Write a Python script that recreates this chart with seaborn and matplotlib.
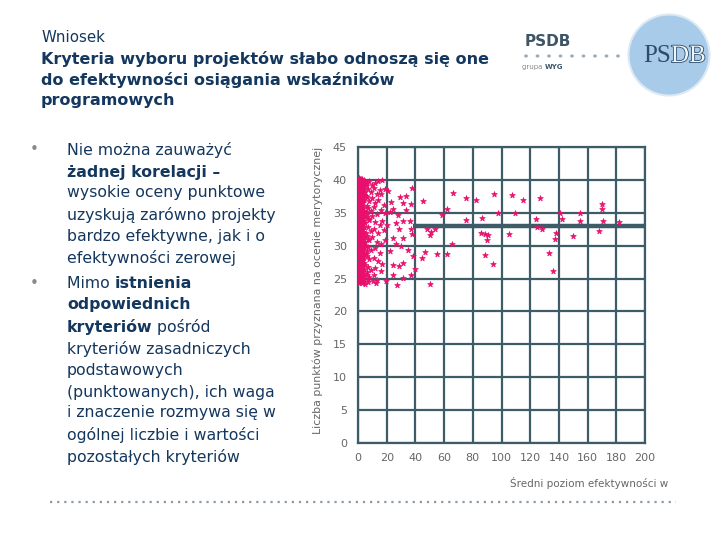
import matplotlib
matplotlib.use("Agg")
import matplotlib.pyplot as plt
import seaborn as sns
import pandas as pd
from matplotlib.patches import Circle
from matplotlib.lines import Line2D
import matplotlib.patheffects as pe

# ---------------- data ----------------
# dense block at very low efficiency (x ~ 0-4)
eff_dense = [0.4, 0.5, 0.3, 0.6, 0.4, 0.5, 0.3, 0.4, 0.6, 0.4, 0.5, 0.3, 0.4, 0.6, 0.5, 0.4, 0.3, 0.5, 0.4, 0.6, 0.4,
             1.6, 1.5, 1.7, 1.6, 1.4, 1.6, 1.7, 1.5, 1.6, 1.4, 1.6, 1.7, 1.5, 1.6, 1.4, 1.6, 1.5, 1.7, 1.6, 1.5, 1.6,
             2.8, 2.7, 2.9, 2.8, 2.6, 2.8, 2.9, 2.7, 2.8, 2.6, 2.8, 2.9, 2.7, 2.8, 2.6, 2.8, 2.7, 2.9, 2.8, 2.7, 2.8,
             4.0, 3.9, 4.1, 4.0, 3.8, 4.0, 4.1, 3.9, 4.0, 3.8, 4.0, 4.1, 3.9, 4.0, 3.8, 4.0, 3.9, 4.1, 4.0, 3.9,
             1.0, 1.1, 0.9, 1.0, 1.2, 1.0, 0.9, 1.1, 1.0, 1.2, 1.0, 0.9, 1.1, 1.0, 1.2, 1.0, 0.9, 1.1, 1.0, 1.0,
             2.2, 2.3, 2.1, 2.2, 2.4, 2.2, 2.1, 2.3, 2.2, 2.4, 2.2, 2.1, 2.3, 2.2, 2.4, 2.2, 2.1, 2.3, 2.2, 2.2,
             3.4, 3.5, 3.3, 3.4, 3.6, 3.4, 3.3, 3.5, 3.4, 3.6, 3.4, 3.3, 3.5, 3.4, 3.6, 3.4, 3.3, 3.5, 3.4, 3.4]
pts_dense = [24.3, 25.1, 25.9, 26.8, 27.5, 28.3, 29.1, 29.9, 30.7, 31.6, 32.3, 33.1, 33.9, 34.8, 35.5, 36.3, 37.1, 37.9, 38.8, 39.5, 40.3,
             24.6, 25.4, 26.2, 27.1, 27.9, 28.6, 29.5, 30.3, 31.0, 31.9, 32.7, 33.5, 34.3, 35.1, 35.9, 36.7, 37.5, 38.3, 39.1, 39.9, 40.1,
             24.4, 25.2, 26.0, 26.9, 27.7, 28.4, 29.3, 30.1, 30.8, 31.7, 32.5, 33.3, 34.1, 34.9, 35.7, 36.5, 37.3, 38.1, 38.9, 39.7, 40.2,
             24.8, 25.7, 26.5, 27.3, 28.1, 28.9, 29.7, 30.5, 31.3, 32.1, 32.9, 33.7, 34.5, 35.3, 36.1, 36.9, 37.7, 38.5, 39.3, 40.0,
             24.7, 25.5, 26.4, 27.2, 28.0, 28.8, 29.6, 30.4, 31.2, 32.0, 32.8, 33.6, 34.4, 35.2, 36.0, 36.8, 37.6, 38.4, 39.2, 40.0,
             24.9, 25.6, 26.3, 27.4, 28.2, 29.0, 29.8, 30.6, 31.4, 32.2, 33.0, 33.8, 34.6, 35.4, 36.2, 37.0, 37.8, 38.6, 39.4, 40.1,
             24.5, 25.3, 26.1, 27.0, 27.8, 28.5, 29.4, 30.2, 31.1, 31.8, 32.6, 33.4, 34.2, 35.0, 35.8, 36.6, 37.4, 38.2, 39.0, 39.8]

# medium density (x ~ 5-20)
eff_mid = [6, 8, 10, 12, 14, 17, 7, 9, 11, 13, 15, 6, 8, 10, 12, 14, 18, 7, 9, 11, 13, 16, 19, 6, 8, 10, 12, 15, 17, 20,
           7, 9, 11, 14, 18, 6, 8, 10, 13, 16, 19, 7, 9, 12, 15, 6, 8, 11, 14, 17, 7, 9, 12, 16, 6, 8, 11, 13, 7, 5,
           5.5, 6.5, 5.2, 6.8, 5.8, 6.2, 5.4, 7.5, 5.6, 6.9, 5.1, 5.3, 5.9, 6.1, 5.0, 5.7, 6.4, 5.2]
pts_mid = [39.5, 39.8, 39.2, 39.6, 39.9, 40.0, 38.6, 38.2, 38.8, 37.9, 38.4, 37.4, 36.8, 37.2, 36.5, 36.9, 36.2, 35.8, 35.3, 35.9,
           34.8, 35.4, 34.9, 34.3, 33.9, 34.5, 33.6, 33.2, 33.8, 33.1, 32.8, 32.2, 32.6, 31.9, 32.4, 31.4, 30.9, 31.3, 30.6, 30.2,
           30.8, 29.8, 29.3, 29.6, 28.9, 28.4, 27.9, 28.2, 27.6, 27.2, 26.8, 26.3, 26.6, 26.1, 25.6, 25.2, 25.5, 24.8, 24.5, 24.2,
           39.0, 36.0, 33.5, 31.0, 28.8, 26.0, 37.6, 34.0, 30.0, 25.0, 38.2, 35.1, 32.0, 29.2, 27.0, 39.6, 34.8, 30.6]

# sparse points (x ~ 20-45)
eff_low = [37.9, 33.7, 29.0, 31.4, 37.2, 23.3, 24.4, 33.7, 27.9, 31.4, 36.0, 26.3, 28.6, 37.2, 37.9, 31.4, 24.4, 26.7,
           29.8, 34.9, 38.4, 22.1, 31.4, 24.4, 28.4, 39.5, 37.2, 31.4, 24.4, 27.2, 19.8, 12.8, 10.5, 18.6, 20.9, 16.3, 22.1]
pts_low = [38.7, 37.5, 37.4, 36.5, 36.3, 36.7, 35.5, 35.4, 34.6, 33.7, 33.7, 33.5, 32.6, 32.6, 31.7, 31.2, 31.2, 30.2,
           29.9, 29.3, 28.4, 29.2, 27.4, 27.1, 26.9, 26.4, 25.6, 25.1, 25.6, 24.0, 24.6, 24.3, 24.6, 38.6, 38.3, 37.8, 35.1]

# high efficiency projects (x > 40)
eff_high = [66.3, 75.6, 81.9, 94.7, 107.0, 115.0, 126.7, 169.8, 169.8, 45.3, 62.0, 58.8, 75.6, 86.7, 97.7, 109.3, 124.0,
            140.7, 142.3, 155.0, 154.7, 171.0, 181.9, 125.0, 128.0, 137.9, 168.0, 150.0, 137.2, 105.1, 86.0, 88.4, 90.7,
            90.2, 65.8, 48.1, 51.2, 53.5, 50.0, 55.1, 62.1, 88.8, 94.2, 133.3, 136.0, 50.0, 47.0, 44.9]
pts_high = [38.0, 37.3, 36.9, 37.9, 37.7, 36.9, 37.3, 36.4, 35.5, 36.8, 35.6, 34.6, 33.9, 34.2, 35.0, 35.0, 34.1,
            35.0, 34.1, 35.0, 33.7, 33.7, 33.6, 32.8, 32.5, 32.0, 32.2, 31.4, 31.0, 31.8, 32.0, 31.8, 31.6,
            30.8, 30.3, 32.6, 32.1, 32.6, 31.6, 28.8, 28.8, 28.6, 27.2, 28.9, 26.2, 24.2, 29.0, 28.1]

mean_x = [38, 200]
mean_y = [33.0, 33.0]

x_ticks = [0, 20, 40, 60, 80, 100, 120, 140, 160, 180, 200]
y_ticks = [0, 5, 10, 15, 20, 25, 30, 35, 40, 45]

df = pd.DataFrame({
    "eff": eff_dense + eff_mid + eff_low + eff_high,
    "pts": pts_dense + pts_mid + pts_low + pts_high,
})

# ---------------- styling ----------------
sns.set_theme(style="white")
plt.rcParams["font.family"] = ["DejaVu Sans"]

W, H = 720, 540
fig = plt.figure(figsize=(7.2, 5.4), dpi=100)
fig.patch.set_facecolor("white")
renderer = fig.canvas.get_renderer()

def fx(px):
    return px / W

def fy(py):
    return 1 - py / H

NAVY = "#14375e"
GRID = "#3e5c68"
PINK = "#e8106c"

ax = fig.add_axes([fx(358), fy(443), (645 - 358) / W, (443 - 147) / H])
ax.plot(mean_x, mean_y, color=GRID, lw=3.2, zorder=2, solid_capstyle="butt")
sns.scatterplot(data=df, x="eff", y="pts", ax=ax, marker="*", s=18, color=PINK,
                edgecolor=PINK, linewidth=0.5, zorder=3, legend=False)
ax.set_xlim(0, 200)
ax.set_ylim(0, 45)
ax.set_xticks(x_ticks)
ax.set_yticks(y_ticks)
ax.grid(True, color=GRID, lw=1.6, zorder=0)
ax.set_axisbelow(True)
for sp in ax.spines.values():
    sp.set_color(GRID)
    sp.set_linewidth(1.6)
ax.tick_params(axis="both", colors=GRID, length=3, width=1.4, labelcolor="#666666", labelsize=8)
ax.tick_params(axis="x", pad=4)
ax.tick_params(axis="y", pad=5)
ax.set_xlabel("")
ax.set_ylabel("")

fig.text(fx(318), fy(290), "Liczba punktów przyznana na ocenie merytorycznej", rotation=90,
         ha="center", va="center", fontsize=7.9, color="#666666")
fig.text(fx(510), fy(483), "Średni poziom efektywności w", ha="left", va="center",
         fontsize=7.5, color="#666666")

# ---------------- title ----------------
fig.text(fx(41), fy(38), "Wniosek", ha="left", va="center", fontsize=10.8, color=NAVY)
title_lines = ["Kryteria wyboru projektów słabo odnoszą się one",
               "do efektywności osiągania wskaźników",
               "programowych"]
for i, t in enumerate(title_lines):
    fig.text(fx(41), fy(59 + 21 * i), t, ha="left", va="center", fontsize=11.5,
             color=NAVY, fontweight="bold")

# ---------------- bullets ----------------
def rich_line(px, py, parts, size=11.3):
    x = fx(px)
    for txt, bold in parts:
        t = fig.text(x, fy(py), txt, ha="left", va="center", fontsize=size, color=NAVY,
                     fontweight="bold" if bold else "normal")
        bb = t.get_window_extent(renderer=renderer)
        x += bb.width / W

body = [
    (150, [("Nie można zauważyć", False)]),
    (172, [("żadnej korelacji –", True)]),
    (193, [("wysokie oceny punktowe", False)]),
    (215, [("uzyskują zarówno projekty", False)]),
    (237, [("bardzo efektywne, jak i o", False)]),
    (258, [("efektywności zerowej", False)]),
    (284, [("Mimo ", False), ("istnienia", True)]),
    (305, [("odpowiednich", True)]),
    (327, [("kryteriów", True), (" pośród", False)]),
    (349, [("kryteriów zasadniczych", False)]),
    (370, [("podstawowych", False)]),
    (392, [("(punktowanych), ich waga", False)]),
    (413, [("i znaczenie rozmywa się w", False)]),
    (435, [("ogólnej liczbie i wartości", False)]),
    (457, [("pozostałych kryteriów", False)]),
]
for py, parts in body:
    rich_line(67, py, parts)
for py in (150, 284):
    fig.text(fx(34), fy(py), "•", ha="center", va="center", fontsize=11, color="#8a8a8a")

# ---------------- logo ----------------
fig.text(fx(525), fy(41), "PSDB", ha="left", va="center", fontsize=11, fontweight="bold", color="#3d5566")
for i in range(9):
    fig.patches.append(Circle((fx(526 + i * 11.5), fy(56)), 0.0016, transform=fig.transFigure,
                              color="#9aabb8"))
g = fig.text(fx(522), fy(67), "grupa ", ha="left", va="center", fontsize=5, color="#888888")
gw = g.get_window_extent(renderer=renderer).width
fig.text(fx(522 + gw), fy(67), "WYG", ha="left", va="center", fontsize=5, fontweight="bold",
         color="#3d5566")

logo_ax = fig.add_axes([fx(627), fy(97), 84 / W, 84 / H])
logo_ax.set_xlim(0, 84)
logo_ax.set_ylim(0, 84)
logo_ax.set_aspect("equal")
logo_ax.axis("off")
logo_ax.add_patch(Circle((42, 42), 40.5, facecolor="#a8cbea", edgecolor="#dbe9f5", lw=1.5))
logo_ax.text(44, 41, "PS", ha="right", va="center", fontsize=18, family="Liberation Serif",
             color="#2e4d6b")
logo_ax.text(44, 41, "DB", ha="left", va="center", fontsize=18, family="Liberation Serif",
             color="#eef5fb", path_effects=[pe.withStroke(linewidth=1.2, foreground="#2e4d6b")])

# ---------------- bottom dotted line ----------------
fig.lines.append(Line2D([fx(50), fx(676)], [fy(502), fy(502)], transform=fig.transFigure,
                        color="#8c9aa5", lw=1.6, linestyle=(0, (1, 2.2))))

fig.savefig("out.png", dpi=100, facecolor="white")
